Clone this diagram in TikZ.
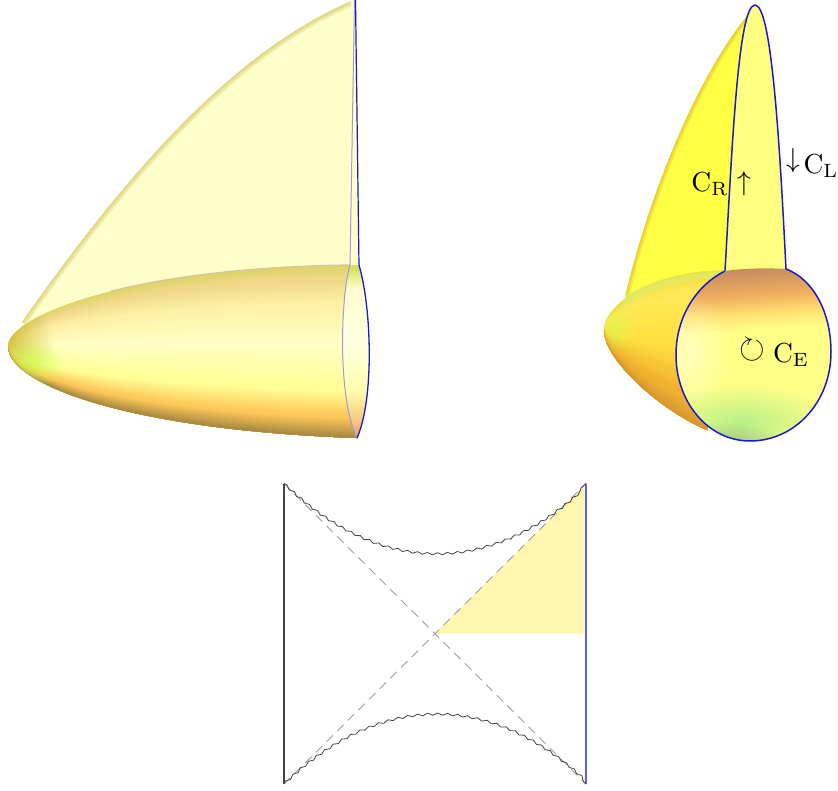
\documentclass[tikz,border=0pt]{standalone}
\usepackage{amssymb}
\usetikzlibrary{calc,decorations.pathmorphing,fadings}
\pgfdeclareradialshading{spotmask}{\pgfpoint{0bp}{0bp}}{color(0bp)=(pgftransparent!0); color(25bp)=(pgftransparent!100); color(50bp)=(pgftransparent!100)}
\pgfdeclarefading{softspot}{\pgfuseshading{spotmask}}
\definecolor{cA}{HTML}{DCD468}
\definecolor{cB}{HTML}{F0D888}
\definecolor{cC}{HTML}{FFF2A8}
\definecolor{cD}{HTML}{FFFFC4}
\definecolor{cE}{HTML}{FFFF96}
\definecolor{cF}{HTML}{FFC85A}
\definecolor{cG}{HTML}{A88A42}
\definecolor{dA}{HTML}{F0D838}
\definecolor{dB}{HTML}{FFE858}
\definecolor{dC}{HTML}{FFE040}
\definecolor{dD}{HTML}{F0B030}
\definecolor{dE}{HTML}{D89830}
\definecolor{sailpale}{HTML}{FFFFCC}
\definecolor{sailedge}{HTML}{D8CC70}
\definecolor{sailbright}{HTML}{FFFF44}
\definecolor{sailrim}{HTML}{E0B830}
\definecolor{frontsail}{HTML}{FFFF80}
\definecolor{lid}{HTML}{DDF070}
\definecolor{toprim}{HTML}{D8C498}
\definecolor{tiprim}{HTML}{D0C038}
\definecolor{tipglow}{HTML}{CCFF50}
\definecolor{bluedark}{HTML}{1A1ACC}
\definecolor{bluelight}{HTML}{9C9CD8}
\definecolor{blueside}{HTML}{6060F0}
\definecolor{tri}{HTML}{FFF6B0}
\definecolor{wig}{HTML}{444444}
\definecolor{dashg}{HTML}{A0A0A0}
\definecolor{pA}{HTML}{E8A070}
\definecolor{pB}{HTML}{F8C880}
\definecolor{pC}{HTML}{FFFFB0}
\definecolor{pD}{HTML}{FFFFE0}
\definecolor{pE}{HTML}{FFFFD0}
\definecolor{pF}{HTML}{D8E060}
\pgfdeclareverticalshading{capshade}{100bp}{
 color(0bp)=(pA);
 color(25.5bp)=(pA);
 color(30bp)=(pB);
 color(39bp)=(pC);
 color(53bp)=(pD);
 color(68bp)=(pE);
 color(74bp)=(pF);
 color(100bp)=(pF)}
\definecolor{kE}{HTML}{FFFF88}
\definecolor{kH}{HTML}{FFE070}
\definecolor{kF}{HTML}{F0B060}
\definecolor{kG}{HTML}{C08860}
\definecolor{kW}{HTML}{FFFFE0}
\definecolor{kV}{HTML}{B8F088}
\definecolor{kU}{HTML}{90B880}
\pgfdeclareverticalshading{diskshade}{100bp}{
 color(0bp)=(kE);
 color(57bp)=(kE);
 color(62bp)=(kH);
 color(67bp)=(kF);
 color(76bp)=(kG);
 color(100bp)=(kG)}
\tikzset{
 lab/.style={scale=2.75,inner sep=0pt,text=black},
 wiggle/.style={draw=wig,line width=.8pt,decorate,decoration={snake,segment length=10pt,amplitude=1.1pt}},
 sideline/.style={line width=1.3pt},
 ringline/.style={draw=bluedark,line width=1.5pt,line join=round}
}
\begin{document}
\begin{tikzpicture}[x=1pt,y=-1pt]
\useasboundingbox (0,0) rectangle (838,791);
%%%%%%%%%%%%%%% left shape
\coordinate (TL) at (8,346);
\coordinate (Ta) at (8,318);
\coordinate (Tb) at (120,268);
\coordinate (Tc) at (350,265);
\coordinate (Ba) at (8,385);
\coordinate (Bb) at (130,430);
\coordinate (Bc) at (357,438);
% sail
\begin{scope}
\clip (22,322) .. controls (122,180) and (230,52) .. (354,0) -- (350,270) -- (22,330) -- cycle;
\fill[sailpale] (0,0) rectangle (360,340);
\foreach \w in {10,7,4,2}
 \draw[sailedge,opacity=.3,line width=\w pt] (22,322) .. controls (122,180) and (230,52) .. (354,0);
\end{scope}
\fill[sailpale] (351,0) -- (358,0) -- (359,268) -- (350,268) -- cycle;
\draw[bluelight,line width=1pt] (354.5,0) -- (350,266);
\draw[bluedark,line width=1.2pt] (355.5,0) -- (359,266);
% body bands
\foreach \tA/\tB/\cX/\cY in {0/.08/cA/cB,.08/.24/cB/cC,.24/.45/cC/cD,.45/.72/cD/cE,.72/.88/cE/cF,.88/1/cF/cG}{
 \foreach \k in {0,...,11}{
  \pgfmathsetmacro\tt{\tA+(\tB-\tA)*\k/12}
  \pgfmathsetmacro\pp{100*\k/11}
  \fill[\cY!\pp!\cX] (TL) .. controls ($(Ta)!\tt!(Ba)$) and ($(Tb)!\tt!(Bb)$) .. ($(Tc)!\tt!(Bc)$)
    -- (Bc) .. controls (Bb) and (Ba) .. (TL) -- cycle;
 }
}
% soft shading at the tip
\begin{scope}
\clip (TL) .. controls (Ta) and (Tb) .. (Tc) -- (Bc) .. controls (Bb) and (Ba) .. (TL) -- cycle;
\fill[tiprim,opacity=1,path fading=softspot] (4,342) ellipse (50 and 50);
\fill[tipglow,opacity=.7,path fading=softspot] (32,364) ellipse (34 and 24);
\end{scope}
\begin{scope}
\clip (110,250) rectangle (352,300);
\draw[toprim,line width=1.3pt] (TL) .. controls (Ta) and (Tb) .. (Tc);
\end{scope}
% end cap
\shade[shading=capshade] (350,265) .. controls (340,300) and (338,400) .. (357,438)
  .. controls (374,400) and (372,310) .. (359,265) -- cycle;
\draw[bluelight,line width=1pt] (350,265) .. controls (340,300) and (338,400) .. (357,438);
\draw[bluedark,line width=1.3pt] (359,265) .. controls (372,310) and (374,400) .. (357,438);
%%%%%%%%%%%%%%% right shape
\coordinate (RT) at (604,330);
\coordinate (Ra) at (604,310);
\coordinate (Rb) at (640,272);
\coordinate (Rc) at (725,270);
\coordinate (Sa) at (604,360);
\coordinate (Sb) at (660,410);
\coordinate (Sc) at (707,430);
% back sail
\fill[sailbright] (625,297) .. controls (650,190) and (700,70) .. (752,10) -- (725,271) -- cycle;
\begin{scope}
\clip (625,297) .. controls (650,190) and (700,70) .. (752,10) -- (725,271) -- cycle;
\foreach \w in {8,5,2}
 \draw[sailrim,opacity=.3,line width=\w pt] (625,297) .. controls (650,190) and (700,70) .. (752,10);
\end{scope}
% front sail
\fill[frontsail] (725,272) .. controls (732,150) and (738,5) .. (755,5) .. controls (772,5) and (780,150) .. (786,270) -- cycle;
\draw[ringline] (725,271) .. controls (732,150) and (738,5) .. (755,5) .. controls (772,5) and (780,150) .. (786,269);
% body
\foreach \tA/\tB/\cX/\cY in {0/.12/dA/dB,.12/.5/dB/dC,.5/.85/dC/dD,.85/1/dD/dE}{
 \foreach \k in {0,...,11}{
  \pgfmathsetmacro\tt{\tA+(\tB-\tA)*\k/12}
  \pgfmathsetmacro\pp{100*\k/11}
  \fill[\cY!\pp!\cX] (RT) .. controls ($(Ra)!\tt!(Sa)$) and ($(Rb)!\tt!(Sb)$) .. ($(Rc)!\tt!(Sc)$)
    -- (Sc) .. controls (Sb) and (Sa) .. (RT) -- cycle;
 }
}
% lid band
\fill[lid,opacity=.6] (625,296) .. controls (640,284) and (680,272) .. (725,270) -- (725,276)
  .. controls (680,280) and (645,292) .. (623,308) -- cycle;
\fill[tipglow,opacity=.5,path fading=softspot] (616,328) ellipse (18 and 26);
% disk
\shade[shading=diskshade,shading angle=4] (725,271) .. controls (745,268) and (770,268) .. (786,269)
  .. controls (813,279) and (831,312) .. (831,352)
  .. controls (831,402) and (795,441) .. (750,441)
  .. controls (708,441) and (676,402) .. (676,355)
  .. controls (676,316) and (697,285) .. (725,271) -- cycle;
\begin{scope}
\clip (725,271) .. controls (745,268) and (770,268) .. (786,269)
  .. controls (813,279) and (831,312) .. (831,352)
  .. controls (831,402) and (795,441) .. (750,441)
  .. controls (708,441) and (676,402) .. (676,355)
  .. controls (676,316) and (697,285) .. (725,271) -- cycle;
\fill[kW,opacity=.6,path fading=softspot] (690,352) ellipse (40 and 60);
\fill[kV,opacity=1,path fading=softspot] (742,422) ellipse (95 and 38);
\fill[kU,opacity=.9,path fading=softspot] (728,446) ellipse (60 and 24);
\end{scope}
\draw[ringline] (786,269)
  .. controls (813,279) and (831,312) .. (831,352)
  .. controls (831,402) and (795,441) .. (750,441)
  .. controls (708,441) and (676,402) .. (676,355)
  .. controls (676,316) and (697,285) .. (725,271);
% labels
\node[lab] (cl) at (821,166) {$\mathrm{C_L}$};
\node[lab] (ad) at (793,161) {$\downarrow$};
\node[lab] (cr) at (710,184) {$\mathrm{C_R}$};
\node[lab] (au) at (744,184) {$\uparrow$};
\node[lab,scale=1.2] (ci) at (752.5,350) {$\circlearrowright$};
\node[lab] (ce) at (791,355) {$\mathrm{C_E}$};
%%%%%%%%%%%%%%% Penrose diagram
\coordinate (pa) at (284,483.5);
\coordinate (pb) at (586,483.5);
\coordinate (pc) at (586,784);
\coordinate (pd) at (284,784);
\coordinate (pm) at (435,633.5);
\fill[tri] (pm) -- (pb) -- (586,633.5) -- cycle;
\draw[dashg,line width=.9pt,dash pattern=on 9pt off 6pt] (pa) -- (pc);
\draw[dashg,line width=.9pt,dash pattern=on 9pt off 6pt] (pd) -- (pb);
\draw[wig,sideline] (pa) -- (pd);
\draw[blueside,sideline] (pb) -- (pc);
\draw[wiggle] (pa) .. controls (380,575) and (490,575) .. (pb);
\draw[wiggle] (pd) .. controls (380,693) and (490,693) .. (pc);
\end{tikzpicture}
\end{document}
